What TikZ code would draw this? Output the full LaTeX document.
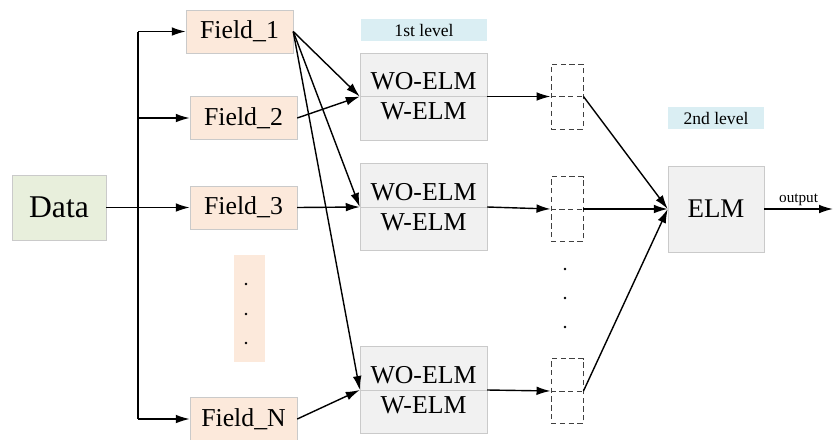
\documentclass[tikz,border=0pt]{standalone}
\usepackage{fontspec}
\setmainfont{Liberation Serif}
\usepackage{tikz}
\usetikzlibrary{positioning}
\usetikzlibrary{arrows.meta}
\usepackage{xcolor}
\definecolor{fieldfill}{HTML}{FCE9DB}
\definecolor{datafill}{HTML}{E8EFDC}
\definecolor{elmfill}{HTML}{F1F1F1}
\definecolor{lvlfill}{HTML}{DAEEF3}
\definecolor{boxline}{HTML}{CACACA}

\begin{document}
\begin{tikzpicture}[x=0.03cm,y=-0.03cm,
    field/.style={draw=boxline,fill=fieldfill,minimum width=3.21cm,minimum height=1.29cm,inner sep=0pt,font=\fontsize{22}{24}\selectfont},
    elmbox/.style={draw=boxline,fill=elmfill,minimum width=3.81cm,minimum height=2.61cm,inner sep=0pt,align=center,font=\fontsize{22}{25.5}\selectfont},
    hidbox/.style={draw=black!75,dash pattern=on 4.5pt off 3pt,line width=0.8pt,minimum width=0.96cm,minimum height=1.95cm,inner sep=0pt},
    lvl/.style={fill=lvlfill,minimum height=0.66cm,inner sep=0pt,font=\fontsize{15}{17}\selectfont},
    arr/.style={-{Latex[length=0.42cm,width=0.26cm]},line width=1.2pt}]
        \useasboundingbox (0,0) rectangle (833,439);
        \node[draw=boxline,fill=datafill,minimum width=2.82cm,minimum height=1.95cm,inner sep=0pt,font=\fontsize{27}{30}\selectfont] (data) at (59,207.5) {Data};
        \node[field] (f1) at (239.5,31.5) {Field\_1};
        \foreach \i/\y in {2/118, 3/207.5, N/419}
            \node[field] (f\i) at (243.5,\y) {Field\_\i};
        \node[fill=fieldfill,minimum width=0.93cm,minimum height=3.21cm] (fdots) at (249.5,308.5) {};
        \foreach \y in {284, 314, 343}
            \fill (246,\y) circle (0.04cm);
        % first level
        \node[lvl,minimum width=3.78cm] (lvl1) at (424,30) {1st level};
        \foreach \i/\y in {1/96.5, 2/207, 3/390}
        {
            \node[elmbox] (wo\i) at (423.5,\y) {WO-ELM\\W-ELM};
            \draw[boxline] (wo\i.west) -- (wo\i.east);
        }
        \foreach \i/\y in {1/96.5, 2/209, 3/391}
        {
            \node[hidbox] (h\i) at (567,\y) {};
            \draw[black!75,dash pattern=on 4.5pt off 3pt,line width=0.8pt] (h\i.west) -- (h\i.east);
        }
        \foreach \y in {269, 298, 327}
            \fill (565,\y) circle (0.04cm);
        % second level
        \node[elmbox,minimum width=2.88cm,minimum height=2.58cm,font=\fontsize{23}{25}\selectfont] (elm) at (716,209) {ELM};
        \node[lvl,minimum width=2.88cm] (lvl2) at (716,118) {2nd level};
        \coordinate (out) at (833,209);
        \coordinate (ttop) at (138,31.5);
        \coordinate (tbot) at (138,419);
        % connectors
        \draw[line width=1.2pt] (ttop) -- (tbot);
        \draw[arr] (data.east) -- (f3.west);
        \draw[arr] (ttop) -- (f1.west);
        \foreach \i in {2, N}
            \draw[arr] (f\i.west -| ttop) -- (f\i.west);
        \foreach \i in {1, 2, 3}
            \draw[arr] (f1.east) -- (wo\i.west);
        \draw[arr] (f2.east) -- (wo1.west);
        \draw[arr] (f3.east) -- (wo2.west);
        \draw[arr] (fN.east) -- (wo3.west);
        \foreach \i in {1, 2, 3}
        {
            \draw[arr] (wo\i.east) -- (h\i.west);
            \draw[arr] (h\i.east) -- (elm.west);
        }
        \draw[arr] (elm.east) -- node[above,inner sep=2pt,font=\fontsize{13}{15}\selectfont] {output} (out);
\end{tikzpicture}
\end{document}
